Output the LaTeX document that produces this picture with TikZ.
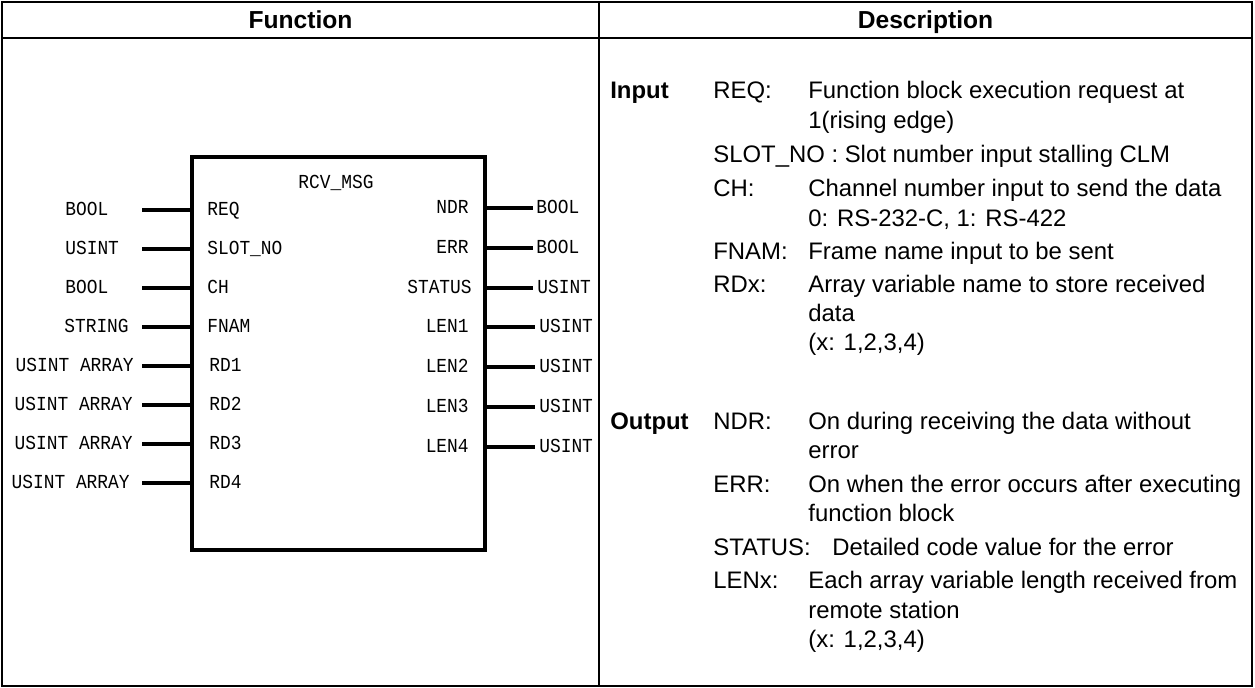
\documentclass[tikz,border=0pt]{standalone}
\usepackage{fontspec}
\setmainfont{Liberation Sans}
\newfontfamily\pinfont[FakeStretch=0.9]{Liberation Mono}
\tikzset{
  tablerule/.style={line width=1.1pt},
  fbox/.style={draw,line width=2.2pt,inner sep=0pt,minimum width=5.86cm,minimum height=7.86cm},
  pin/.style={line width=2.3pt},
  io/.style={font=\pinfont\fontsize{11.3}{13}\selectfont,inner sep=0pt},
  txt/.style={font=\fontsize{13.6}{16}\selectfont,inner sep=0pt,anchor=base west},
  head/.style={font=\bfseries\fontsize{14}{16}\selectfont,inner sep=0pt,anchor=base}
}

\begin{document}
\begin{tikzpicture}[x=0.02cm,y=-0.02cm]
  \useasboundingbox (0,0) rectangle (1255,688);
  % Table frame
  \draw[tablerule] (2,2) rectangle (1252,686);
  \draw[tablerule] (2,38) -- (1252,38);
  \draw[tablerule] (599,2) -- (599,686);
  \node[head]   (hfun)    at (300.5,29) {Function};
  \node[head]   (hdesc)   at (925.5,29) {Description};
  % Function block
  \node[fbox]   (blk)     at (338.5,353.5) {};
  \node[io,anchor=base] (title) at (336,189) {RCV\_MSG};
  % Inputs
  \coordinate   (cREQ)    at (142,210);
  \coordinate   (cSLOT)   at (142,249);
  \coordinate   (cCH)     at (142,288);
  \coordinate   (cFNAM)   at (142,327);
  \coordinate   (cRD1)    at (142,366);
  \coordinate   (cRD2)    at (142,405);
  \coordinate   (cRD3)    at (142,444);
  \coordinate   (cRD4)    at (142,483);
  \node[io,anchor=base west] (pREQ)  at (207,216) {REQ};
  \node[io,anchor=base west] (pSLOT) at (207,255) {SLOT\_NO};
  \node[io,anchor=base west] (pCH)   at (207,294) {CH};
  \node[io,anchor=base west] (pFNAM) at (207,333) {FNAM};
  \node[io,anchor=base west] (pRD1)  at (209,372) {RD1};
  \node[io,anchor=base west] (pRD2)  at (209,411) {RD2};
  \node[io,anchor=base west] (pRD3)  at (209,450) {RD3};
  \node[io,anchor=base west] (pRD4)  at (209,489) {RD4};
  \node[io,anchor=base west] (tREQ)  at (65,216) {BOOL};
  \node[io,anchor=base west] (tSLOT) at (65,255) {USINT};
  \node[io,anchor=base west] (tCH)   at (65,294) {BOOL};
  \node[io,anchor=base west] (tFNAM) at (64,333) {STRING};
  \node[io,anchor=base east] (tRD1)  at (134,372) {USINT ARRAY};
  \node[io,anchor=base east] (tRD2)  at (133,411) {USINT ARRAY};
  \node[io,anchor=base east] (tRD3)  at (133,450) {USINT ARRAY};
  \node[io,anchor=base east] (tRD4)  at (130,489) {USINT ARRAY};
  \draw[pin] (cREQ) -- (cREQ -| blk.west);
  \draw[pin] (cSLOT) -- (cSLOT -| blk.west);
  \draw[pin] (cCH) -- (cCH -| blk.west);
  \draw[pin] (cFNAM) -- (cFNAM -| blk.west);
  \draw[pin] (cRD1) -- (cRD1 -| blk.west);
  \draw[pin] (cRD2) -- (cRD2 -| blk.west);
  \draw[pin] (cRD3) -- (cRD3 -| blk.west);
  \draw[pin] (cRD4) -- (cRD4 -| blk.west);
  % Outputs
  \coordinate   (cNDR)    at (533,208);
  \coordinate   (cERR)    at (533,248);
  \coordinate   (cSTAT)   at (533,288);
  \coordinate   (cLEN1)   at (535,327);
  \coordinate   (cLEN2)   at (535,367);
  \coordinate   (cLEN3)   at (535,407);
  \coordinate   (cLEN4)   at (535,447);
  \node[io,anchor=base east] (pNDR)  at (469,214) {NDR};
  \node[io,anchor=base east] (pERR)  at (469,254) {ERR};
  \node[io,anchor=base east] (pSTAT) at (472,294) {STATUS};
  \node[io,anchor=base east] (pLEN1) at (469,333) {LEN1};
  \node[io,anchor=base east] (pLEN2) at (469,373) {LEN2};
  \node[io,anchor=base east] (pLEN3) at (469,413) {LEN3};
  \node[io,anchor=base east] (pLEN4) at (469,453) {LEN4};
  \node[io,anchor=base west] (tNDR)  at (536,214) {BOOL};
  \node[io,anchor=base west] (tERR)  at (536,254) {BOOL};
  \node[io,anchor=base west] (tSTAT) at (537,294) {USINT};
  \node[io,anchor=base west] (tLEN1) at (539,333) {USINT};
  \node[io,anchor=base west] (tLEN2) at (539,373) {USINT};
  \node[io,anchor=base west] (tLEN3) at (539,413) {USINT};
  \node[io,anchor=base west] (tLEN4) at (539,453) {USINT};
  \draw[pin] (cNDR -| blk.east) -- (cNDR);
  \draw[pin] (cERR -| blk.east) -- (cERR);
  \draw[pin] (cSTAT -| blk.east) -- (cSTAT);
  \draw[pin] (cLEN1 -| blk.east) -- (cLEN1);
  \draw[pin] (cLEN2 -| blk.east) -- (cLEN2);
  \draw[pin] (cLEN3 -| blk.east) -- (cLEN3);
  \draw[pin] (cLEN4 -| blk.east) -- (cLEN4);
  % Description: inputs
  \node[txt,font=\bfseries\fontsize{13.6}{16}\selectfont] (din) at (610,98.5) {Input};
  \node[txt] (kREQ)  at (713,98.5)  {REQ:};
  \node[txt] (dREQ)  at (808,98.5)  {Function block execution request at};
  \node[txt] (dREQb) at (808,128.5) {1(rising edge)};
  \node[txt] (kSLOT) at (713,163)   {SLOT\_NO : Slot number input stalling CLM};
  \node[txt] (kCH)   at (713,197)   {CH:};
  \node[txt] (dCH)   at (808,197)   {Channel number input to send the data};
  \node[txt] (dCHb)  at (808,226.5) {0: RS-232-C, 1: RS-422};
  \node[txt] (kFNAM) at (713,260)   {FNAM:};
  \node[txt] (dFNAM) at (808,260)   {Frame name input to be sent};
  \node[txt] (kRD)   at (713,293)   {RDx:};
  \node[txt] (dRD)   at (808,293)   {Array variable name to store received};
  \node[txt] (dRDb)  at (808,322)   {data};
  \node[txt] (dRDc)  at (808,351)   {(x: 1,2,3,4)};
  % Description: outputs
  \node[txt,font=\bfseries\fontsize{13.6}{16}\selectfont] (dout) at (610,429.5) {Output};
  \node[txt] (kNDR)  at (713,429.5) {NDR:};
  \node[txt] (dNDR)  at (808,429.5) {On during receiving the data without};
  \node[txt] (dNDRb) at (808,459)   {error};
  \node[txt] (kERR)  at (713,492.5) {ERR:};
  \node[txt] (dERR)  at (808,492.5) {On when the error occurs after executing};
  \node[txt] (dERRb) at (808,522)   {function block};
  \node[txt] (kSTAT) at (713,555.5) {STATUS:};
  \node[txt] (dSTAT) at (832,555.5) {Detailed code value for the error};
  \node[txt] (kLEN)  at (713,589)   {LENx:};
  \node[txt] (dLEN)  at (808,589)   {Each array variable length received from};
  \node[txt] (dLENb) at (808,618.5) {remote station};
  \node[txt] (dLENc) at (808,648)   {(x: 1,2,3,4)};
\end{tikzpicture}
\end{document}
